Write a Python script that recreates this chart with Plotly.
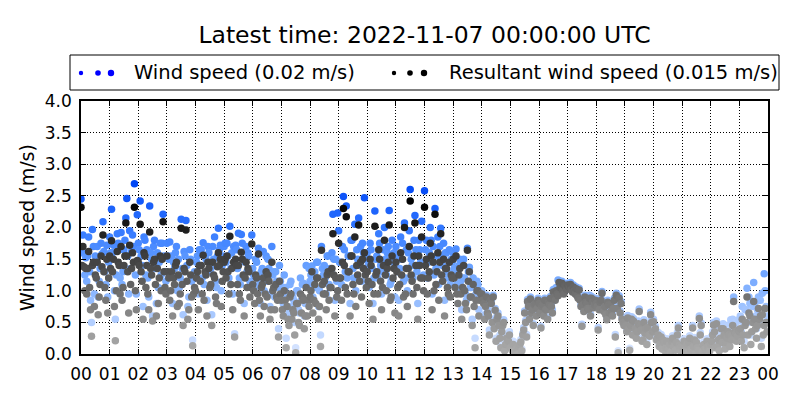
import pandas as pd
import plotly.graph_objects as go

# 2-minute samples, 2022-11-06 00:00 .. 23:58 UTC (30 per hour)
times = pd.date_range("2022-11-06 00:00", periods=720, freq="2min")

wind_speed = [
    2.45, 1.60, 1.88, 1.60, 1.25, 1.52, 1.15, 1.55, 1.85, 1.30, 0.85, 0.50, 1.97, 1.70, 0.95, 1.55, 1.45, 1.70, 0.90, 1.15, 1.35, 1.75, 1.58, 2.09, 1.62, 1.30, 1.10, 1.72, 0.90, 1.45,  # 00
    1.85, 1.60, 2.29, 1.60, 1.72, 1.00, 0.55, 1.25, 1.90, 1.75, 1.65, 1.20, 1.92, 1.10, 1.30, 1.65, 1.80, 2.15, 2.46, 1.55, 0.95, 1.95, 1.35, 1.62, 1.88, 1.70, 2.69, 1.25, 0.95, 2.20,  # 01
    1.75, 1.65, 2.42, 1.55, 1.40, 0.75, 1.85, 1.80, 1.25, 1.65, 1.20, 0.90, 2.34, 1.60, 1.50, 0.60, 1.70, 1.80, 1.35, 0.80, 1.60, 1.05, 1.45, 1.75, 1.25, 1.75, 2.21, 1.55, 1.30, 1.15,  # 02
    1.75, 1.55, 1.50, 1.77, 1.25, 1.55, 0.80, 1.45, 1.35, 1.60, 1.70, 1.00, 1.50, 1.05, 1.20, 2.13, 1.35, 0.62, 1.62, 1.55, 2.11, 1.40, 0.75, 0.90, 1.65, 1.50, 1.15, 0.22, 1.20, 1.30,  # 03
    1.25, 1.45, 1.55, 0.95, 1.65, 1.40, 1.65, 1.20, 1.76, 1.10, 1.55, 1.50, 0.85, 1.70, 1.60, 1.30, 1.35, 0.62, 1.70, 1.50, 1.85, 1.15, 1.05, 1.55, 1.99, 1.65, 1.72, 1.00, 1.40, 1.55,  # 04
    1.70, 1.75, 1.45, 1.75, 1.55, 1.20, 2.02, 1.35, 1.60, 0.95, 1.70, 0.32, 1.72, 1.65, 1.35, 1.91, 1.20, 1.10, 1.89, 1.75, 1.50, 0.80, 1.45, 1.70, 1.30, 1.60, 1.55, 1.15, 1.30, 1.88,  # 05
    1.35, 1.25, 1.05, 1.50, 1.45, 1.20, 1.67, 1.10, 0.80, 1.30, 1.35, 1.62, 1.00, 1.20, 1.55, 1.15, 1.50, 1.35, 0.75, 0.95, 1.70, 1.25, 1.30, 0.90, 1.30, 1.15, 1.05, 0.40, 1.40, 1.15,  # 06
    1.05, 0.90, 0.80, 1.25, 1.05, 0.25, 0.95, 0.75, 0.65, 1.10, 1.15, 0.75, 0.90, 0.85, 0.50, 0.10, 1.00, 1.00, 0.70, 0.65, 1.20, 0.85, 1.10, 1.12, 0.60, 0.80, 1.40, 0.80, 1.05, 1.35,  # 07
    1.15, 1.25, 1.39, 0.90, 1.10, 1.30, 1.05, 1.45, 1.45, 0.75, 1.00, 0.30, 1.70, 1.35, 1.25, 1.40, 1.20, 0.95, 1.55, 1.55, 1.10, 1.35, 1.30, 1.60, 2.21, 1.50, 0.85, 1.50, 1.15, 2.23,  # 08
    1.95, 1.45, 1.45, 1.10, 1.70, 2.49, 1.65, 1.30, 2.34, 1.20, 1.55, 1.55, 0.80, 1.80, 1.80, 1.35, 1.20, 2.05, 1.00, 1.65, 1.50, 2.15, 1.40, 1.70, 1.15, 1.75, 1.60, 2.47, 1.50, 1.30,  # 09
    1.60, 1.40, 1.05, 1.75, 1.65, 1.35, 0.80, 1.20, 2.26, 1.50, 1.55, 1.20, 1.90, 1.75, 1.40, 0.95, 1.30, 1.65, 2.00, 1.50, 1.25, 1.60, 1.70, 2.27, 1.10, 1.15, 1.80, 1.45, 1.60, 0.90,  # 10
    1.70, 1.55, 1.30, 0.85, 1.35, 1.85, 1.50, 1.75, 1.15, 2.07, 1.20, 1.65, 1.00, 1.60, 1.95, 2.60, 1.50, 1.40, 1.20, 1.80, 2.19, 1.65, 1.30, 0.80, 1.80, 1.65, 1.45, 2.10, 1.45, 1.25,  # 11
    2.58, 1.65, 1.80, 1.20, 1.45, 1.60, 2.00, 1.80, 0.95, 1.70, 1.25, 2.30, 1.35, 1.55, 1.85, 1.10, 1.70, 1.99, 1.55, 1.40, 1.75, 0.85, 1.60, 1.60, 1.30, 1.20, 1.65, 1.10, 1.50, 1.45,  # 12
    1.60, 1.35, 1.30, 1.66, 1.10, 1.05, 1.40, 1.50, 1.15, 0.70, 1.20, 1.50, 1.20, 0.95, 0.85, 1.67, 1.30, 1.37, 1.05, 1.05, 0.55, 1.20, 0.90, 0.25, 0.95, 1.15, 1.10, 0.70, 1.00, 1.00,  # 13
    1.00, 0.90, 0.85, 0.62, 0.80, 0.93, 0.70, 0.65, 0.38, 0.88, 0.85, 0.55, 0.93, 0.45, 0.72, 0.25, 0.60, 0.65, 0.50, 0.30, 0.15, 0.40, 0.50, 0.54, 0.08, 0.20, 0.30, 0.20, 0.25, 0.35,  # 14
    0.14, 0.11, 0.09, 0.20, 0.06, 0.05, 0.12, 0.13, 0.03, 0.16, 0.18, 0.23, 0.08, 0.33, 0.42, 0.68, 0.53, 0.31, 0.86, 0.78, 0.58, 0.90, 0.68, 0.73, 0.48, 0.81, 0.83, 0.63, 0.75, 0.88,  # 15
    0.83, 0.68, 0.44, 0.78, 0.81, 0.63, 0.88, 0.73, 0.73, 0.58, 0.85, 0.81, 0.91, 0.78, 0.70, 1.02, 0.93, 0.88, 1.05, 0.98, 1.17, 1.16, 1.08, 1.09, 1.15, 1.03, 0.98, 1.11, 1.10, 1.05,  # 16
    1.12, 1.10, 1.08, 1.13, 1.05, 1.01, 1.09, 1.03, 0.98, 1.06, 0.95, 0.91, 1.04, 0.88, 0.78, 0.47, 0.81, 0.70, 0.93, 0.85, 0.84, 0.75, 0.73, 0.93, 0.63, 0.91, 0.85, 0.76, 0.81, 0.88,  # 17
    0.84, 0.78, 0.42, 0.74, 0.85, 0.88, 0.99, 0.73, 0.70, 0.78, 0.65, 0.58, 0.85, 0.81, 0.68, 0.82, 0.71, 0.63, 0.75, 0.88, 0.31, 0.96, 0.75, 0.05, 0.92, 0.68, 0.83, 0.58, 0.53, 0.49,  # 18
    0.54, 0.49, 0.39, 0.61, 0.44, 0.09, 0.49, 0.59, 0.34, 0.56, 0.34, 0.44, 0.29, 0.39, 0.52, 0.71, 0.49, 0.42, 0.24, 0.26, 0.54, 0.37, 0.44, 0.19, 0.46, 0.34, 0.32, 0.66, 0.54, 0.39,  # 19
    0.55, 0.39, 0.44, 0.26, 0.29, 0.34, 0.16, 0.19, 0.31, 0.12, 0.26, 0.22, 0.09, 0.14, 0.24, 0.14, 0.12, 0.19, 0.06, 0.24, 0.29, 0.16, 0.16, 0.10, 0.22, 0.34, 0.45, 0.18, 0.14, 0.08,  # 20
    0.14, 0.16, 0.24, 0.09, 0.12, 0.19, 0.06, 0.22, 0.29, 0.12, 0.09, 0.45, 0.16, 0.26, 0.03, 0.22, 0.14, 0.10, 0.60, 0.34, 0.49, 0.07, 0.18, 0.19, 0.12, 0.10, 0.24, 0.16, 0.14, 0.09,  # 21
    0.19, 0.28, 0.35, 0.50, 0.43, 0.14, 0.52, 0.20, 0.28, 0.09, 0.33, 0.45, 0.25, 0.48, 0.38, 0.15, 0.26, 0.35, 0.45, 0.38, 0.22, 0.54, 0.30, 0.55, 0.90, 0.43, 0.50, 0.32, 0.36, 0.52,  # 22
    0.55, 0.60, 0.35, 0.75, 0.50, 0.20, 0.70, 0.70, 1.04, 0.50, 0.90, 0.80, 0.30, 0.55, 0.75, 1.13, 0.80, 0.60, 0.40, 0.70, 0.90, 0.85, 0.85, 0.25, 0.96, 0.50, 1.27, 1.00, 0.75, 0.60,  # 23
]

resultant_speed = [
    2.32, 1.40, 1.70, 1.38, 1.00, 1.35, 0.95, 1.35, 1.62, 1.05, 0.70, 0.28, 1.40, 1.45, 0.75, 1.25, 1.20, 1.45, 0.62, 0.90, 1.10, 1.55, 1.38, 1.88, 1.30, 1.05, 0.85, 1.50, 0.65, 1.20,  # 00
    1.55, 1.35, 1.79, 1.30, 1.50, 0.75, 0.21, 1.00, 1.62, 1.45, 1.40, 0.95, 1.70, 0.85, 1.05, 1.40, 1.55, 2.07, 1.55, 1.30, 0.65, 1.72, 1.10, 1.35, 1.60, 1.45, 2.32, 1.00, 0.70, 1.48,  # 01
    1.45, 1.40, 2.05, 1.30, 1.15, 0.55, 1.60, 1.55, 1.05, 1.40, 0.95, 0.70, 1.93, 1.35, 1.25, 0.52, 1.45, 1.50, 1.10, 0.60, 1.35, 0.80, 1.20, 1.55, 1.00, 1.50, 2.09, 1.30, 1.05, 0.95,  # 02
    1.55, 1.30, 1.20, 0.85, 1.00, 1.30, 0.60, 1.20, 1.10, 1.40, 1.45, 0.75, 1.25, 0.80, 0.95, 1.99, 1.10, 0.45, 1.35, 1.30, 1.96, 1.15, 0.55, 0.70, 1.45, 1.25, 0.90, 0.13, 0.95, 1.05,  # 03
    1.00, 1.20, 1.30, 0.70, 1.40, 1.15, 1.40, 0.95, 1.56, 0.85, 1.30, 1.25, 0.60, 1.45, 1.35, 1.05, 1.10, 0.45, 1.45, 1.25, 1.20, 0.90, 0.80, 1.38, 1.60, 1.40, 1.50, 0.75, 1.15, 1.30,  # 04
    1.45, 1.50, 1.20, 1.55, 1.30, 0.95, 1.86, 1.10, 1.35, 0.70, 1.45, 0.27, 1.50, 1.40, 1.10, 1.40, 0.95, 0.85, 1.61, 1.50, 1.25, 0.60, 1.20, 1.45, 1.05, 1.35, 1.30, 0.90, 1.05, 1.74,  # 05
    1.10, 1.00, 0.80, 1.25, 1.20, 0.95, 1.58, 0.85, 0.60, 1.05, 1.10, 1.20, 0.75, 0.95, 1.30, 0.90, 1.25, 1.15, 0.55, 0.70, 1.45, 1.00, 1.05, 0.70, 1.10, 0.90, 0.85, 0.27, 1.15, 0.95,  # 06
    0.85, 0.70, 0.60, 1.00, 0.85, 0.10, 0.75, 0.55, 0.45, 0.90, 0.95, 0.55, 0.70, 0.65, 0.30, 0.02, 0.80, 0.80, 0.50, 0.45, 0.95, 0.65, 0.90, 0.85, 0.40, 0.60, 1.05, 0.60, 0.85, 0.75,  # 07
    0.90, 1.00, 1.30, 0.65, 0.85, 1.10, 0.80, 1.20, 1.20, 0.55, 0.75, 0.12, 1.64, 1.10, 0.95, 1.15, 0.95, 0.70, 1.25, 1.30, 0.85, 1.05, 1.05, 1.35, 1.90, 1.25, 0.60, 1.20, 0.90, 1.00,  # 08
    1.75, 1.20, 1.20, 0.85, 1.45, 2.30, 1.40, 1.05, 2.17, 0.95, 1.30, 1.30, 0.60, 1.55, 1.55, 1.10, 0.95, 1.85, 0.75, 1.40, 1.25, 2.04, 1.15, 1.45, 0.90, 1.50, 1.35, 1.60, 1.25, 1.05,  # 09
    1.30, 1.15, 0.80, 1.50, 1.40, 1.10, 0.55, 0.95, 2.02, 1.25, 1.30, 0.95, 1.65, 1.50, 1.15, 0.70, 1.05, 1.40, 1.80, 1.25, 1.00, 1.35, 1.45, 2.04, 0.85, 0.90, 1.55, 1.20, 1.35, 0.65,  # 10
    1.45, 1.30, 1.05, 0.60, 1.10, 1.60, 1.25, 1.50, 0.90, 2.00, 0.95, 1.35, 0.75, 1.35, 1.70, 2.42, 1.25, 1.15, 0.95, 1.55, 2.07, 1.40, 1.05, 0.55, 1.55, 1.40, 1.20, 1.85, 1.20, 1.00,  # 11
    2.32, 1.40, 1.50, 0.95, 1.20, 1.30, 1.75, 1.55, 0.70, 1.45, 1.00, 2.21, 1.10, 1.30, 1.60, 0.85, 1.45, 1.90, 1.25, 1.15, 1.50, 0.60, 1.35, 1.35, 1.05, 0.95, 1.45, 0.90, 1.25, 1.20,  # 12
    1.50, 1.20, 1.05, 1.55, 0.95, 0.80, 1.25, 1.35, 0.95, 0.55, 1.05, 1.40, 1.00, 0.80, 0.70, 1.64, 1.15, 1.30, 0.90, 0.90, 0.45, 1.10, 0.75, 0.10, 0.85, 1.00, 1.00, 0.60, 0.85, 0.95,  # 13
    0.95, 0.85, 0.80, 0.55, 0.75, 0.90, 0.65, 0.60, 0.30, 0.85, 0.80, 0.50, 0.90, 0.40, 0.69, 0.20, 0.55, 0.60, 0.45, 0.25, 0.10, 0.35, 0.45, 0.50, 0.05, 0.15, 0.25, 0.15, 0.20, 0.30,  # 14
    0.10, 0.08, 0.05, 0.15, 0.03, 0.02, 0.08, 0.10, 0.00, 0.12, 0.15, 0.19, 0.05, 0.30, 0.38, 0.65, 0.50, 0.27, 0.83, 0.75, 0.55, 0.87, 0.65, 0.70, 0.45, 0.78, 0.80, 0.60, 0.72, 0.85,  # 15
    0.80, 0.65, 0.41, 0.75, 0.78, 0.60, 0.85, 0.70, 0.70, 0.55, 0.82, 0.78, 0.88, 0.75, 0.65, 0.98, 0.90, 0.85, 1.00, 0.95, 0.92, 1.13, 1.05, 1.06, 1.12, 1.00, 0.95, 1.08, 1.07, 1.02,  # 16
    1.09, 1.07, 1.05, 1.10, 1.02, 0.98, 1.06, 1.00, 0.95, 1.03, 0.92, 0.88, 1.01, 0.85, 0.75, 0.44, 0.78, 0.67, 0.90, 0.82, 0.80, 0.72, 0.70, 0.88, 0.60, 0.88, 0.82, 0.73, 0.78, 0.85,  # 17
    0.80, 0.75, 0.38, 0.70, 0.82, 0.85, 0.96, 0.70, 0.67, 0.75, 0.62, 0.54, 0.82, 0.78, 0.65, 0.78, 0.68, 0.60, 0.72, 0.85, 0.27, 0.93, 0.72, 0.02, 0.88, 0.65, 0.80, 0.55, 0.50, 0.45,  # 18
    0.50, 0.45, 0.35, 0.57, 0.40, 0.06, 0.45, 0.55, 0.30, 0.52, 0.30, 0.40, 0.25, 0.35, 0.48, 0.67, 0.45, 0.38, 0.20, 0.22, 0.50, 0.33, 0.40, 0.15, 0.42, 0.30, 0.28, 0.62, 0.50, 0.35,  # 19
    0.51, 0.35, 0.40, 0.22, 0.25, 0.30, 0.12, 0.15, 0.27, 0.08, 0.22, 0.18, 0.05, 0.10, 0.20, 0.10, 0.08, 0.15, 0.03, 0.20, 0.25, 0.12, 0.12, 0.06, 0.18, 0.30, 0.41, 0.14, 0.10, 0.04,  # 20
    0.10, 0.12, 0.20, 0.05, 0.08, 0.15, 0.02, 0.18, 0.25, 0.08, 0.05, 0.41, 0.12, 0.22, 0.00, 0.18, 0.10, 0.06, 0.56, 0.30, 0.45, 0.03, 0.14, 0.15, 0.08, 0.06, 0.20, 0.12, 0.10, 0.05,  # 21
    0.15, 0.20, 0.30, 0.46, 0.35, 0.10, 0.48, 0.12, 0.22, 0.05, 0.25, 0.40, 0.18, 0.40, 0.30, 0.08, 0.18, 0.25, 0.35, 0.30, 0.12, 0.28, 0.22, 0.45, 0.83, 0.35, 0.32, 0.20, 0.28, 0.38,  # 22
    0.35, 0.40, 0.20, 0.55, 0.30, 0.10, 0.45, 0.50, 0.90, 0.30, 0.65, 0.60, 0.15, 0.35, 0.50, 0.83, 0.55, 0.40, 0.25, 0.45, 0.72, 0.55, 0.60, 0.12, 0.62, 0.30, 0.45, 0.72, 0.50, 0.35,  # 23
]

y_ticks = [0.0, 0.5, 1.0, 1.5, 2.0, 2.5, 3.0, 3.5, 4.0]
latest_time = "2022-11-07 00:00:00"
legend_labels = ["Wind speed (0.02 m/s)", "Resultant wind speed (0.015 m/s)"]
legend_colors = ["#0000ff", "#000000"]

# darker / more saturated colour for higher speeds
wind_scale = [[0.0, "#dbe7ff"], [0.2, "#b0cdff"], [0.4, "#80b0ff"],
              [0.55, "#5f9bff"], [0.75, "#2e74ff"], [1.0, "#0046f5"]]
resultant_scale = [[0.0, "#acacac"], [0.2, "#959595"], [0.4, "#6e6e6e"],
                   [0.55, "#4e4e4e"], [0.75, "#2a2a2a"], [1.0, "#000000"]]

FONT = "DejaVu Sans"
W, H = 800, 400
L, R, T, B = 81, 32, 101, 46


def px_x(x):
    # figure pixel column -> paper x
    return (x - L) / (W - L - R)


def px_y(y):
    # figure pixel row -> paper y
    return (H - B - y) / (H - T - B)


fig = go.Figure()

fig.add_trace(go.Scatter(
    x=times, y=wind_speed, mode="markers", showlegend=False,
    marker=dict(size=7.5, color=wind_speed, colorscale=wind_scale,
                cmin=0, cmax=2.7, line=dict(width=0)),
))
fig.add_trace(go.Scatter(
    x=times, y=resultant_speed, mode="markers", showlegend=False,
    marker=dict(size=7.5, color=resultant_speed, colorscale=resultant_scale,
                cmin=0, cmax=2.4, line=dict(width=0)),
))

axis_common = dict(
    showline=True, linecolor="black", linewidth=1.5, mirror="allticks",
    ticks="inside", ticklen=5, tickwidth=1, tickcolor="black",
    showgrid=True, gridcolor="black", gridwidth=1, griddash="1px,2px",
    zeroline=False, automargin=False,
    tickfont=dict(family=FONT, size=17, color="black"),
)

fig.update_xaxes(
    type="date", range=["2022-11-06 00:00", "2022-11-07 00:00"],
    dtick=3600000, tick0="2022-11-06 00:00", tickformat="%H",
    ticklabelstandoff=4, **axis_common,
)
fig.update_yaxes(
    range=[0, 4], tickvals=y_ticks, tickformat=".1f", ticklabelstandoff=4,
    title=dict(text="Wind speed (m/s)", font=dict(family=FONT, size=19, color="black"),
               standoff=5),
    **axis_common,
)

# matplotlib-style legend box: three dots per entry
shapes = [dict(type="rect", xref="paper", yref="paper",
               x0=px_x(70), x1=px_x(779), y0=px_y(90), y1=px_y(55),
               line=dict(color="black", width=1), fillcolor="white", layer="above")]
annotations = []
dot_x = [[81, 98, 111], [394, 410, 424]]
text_x = [132, 447]
dot_r = [2.2, 2.8, 3.2]
for label, color, dxs, tx in zip(legend_labels, legend_colors, dot_x, text_x):
    for dx, r in zip(dxs, dot_r):
        shapes.append(dict(type="circle", xref="paper", yref="paper",
                           xsizemode="pixel", ysizemode="pixel",
                           xanchor=px_x(dx), yanchor=px_y(73),
                           x0=-r, x1=r, y0=-r, y1=r,
                           fillcolor=color, line=dict(width=0)))
    annotations.append(dict(text=label, xref="paper", yref="paper",
                            x=px_x(tx), y=px_y(72), xanchor="left", yanchor="middle",
                            showarrow=False,
                            font=dict(family=FONT, size=19.5, color="black")))

fig.update_layout(
    width=W, height=H,
    margin=dict(l=L, r=R, t=T, b=B),
    paper_bgcolor="white", plot_bgcolor="white",
    showlegend=False,
    shapes=shapes, annotations=annotations,
    title=dict(text=f"Latest time: {latest_time} UTC", x=0.5, xref="paper",
               xanchor="center", y=0.912, yanchor="middle",
               font=dict(family=FONT, size=23.5, color="black")),
    font=dict(family=FONT, color="black"),
)

# drop the default page margin so the figure sits at the window origin
fig.write_html("out.html", config={"displayModeBar": False},
               post_script="document.body.style.margin='0';")
